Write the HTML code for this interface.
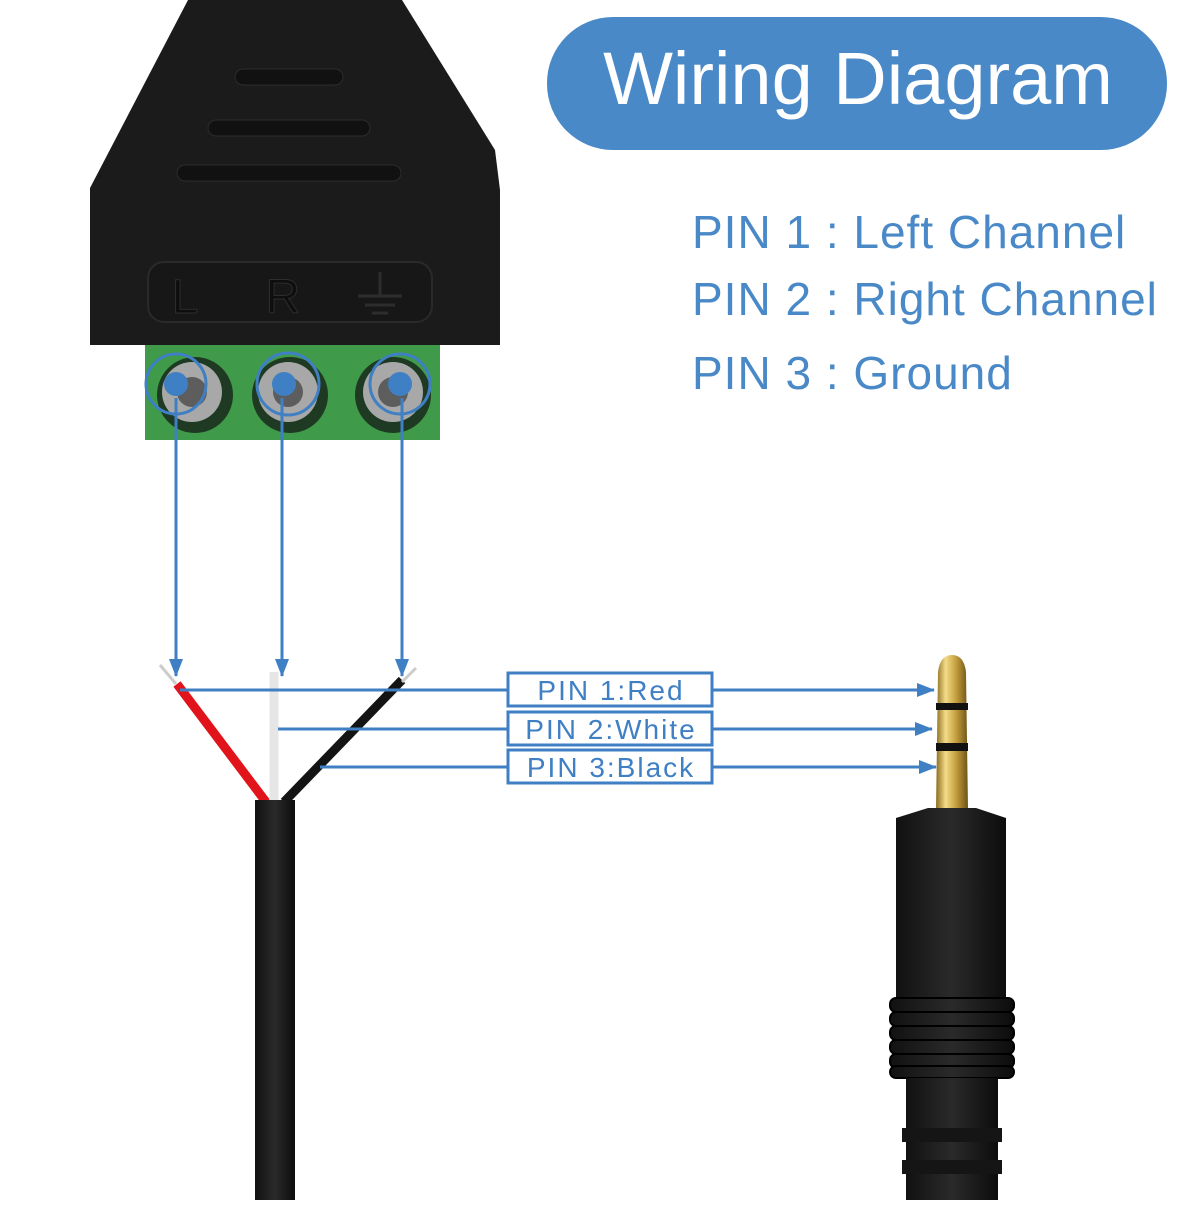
<!DOCTYPE html>
<html><head><meta charset="utf-8"><style>
body{margin:0;background:#fff;width:1200px;height:1200px;overflow:hidden;font-family:"Liberation Sans",sans-serif}
</style></head><body>
<svg width="1200" height="1200" viewBox="0 0 1200 1200" xmlns="http://www.w3.org/2000/svg">
<defs>
<linearGradient id="gold" x1="0" x2="1"><stop offset="0" stop-color="#8a6a1c"/><stop offset="0.3" stop-color="#f3dc8a"/><stop offset="0.6" stop-color="#c9a443"/><stop offset="1" stop-color="#6e5214"/></linearGradient>
<linearGradient id="blk" x1="0" x2="1"><stop offset="0" stop-color="#111"/><stop offset="0.5" stop-color="#2a2a2a"/><stop offset="1" stop-color="#0c0c0c"/></linearGradient>
<marker id="ar" markerWidth="18" markerHeight="14" refX="17" refY="7" orient="auto" markerUnits="userSpaceOnUse"><path d="M0,0 L18,7 L0,14 Z" fill="#3f7fc4"/></marker>
</defs>
<path d="M188,0 L402,0 L495,150 L500,190 L500,345 L90,345 L90,188 Z" fill="#1b1b1b"/>
<rect x="235" y="69" width="108" height="16" rx="8" fill="#111" stroke="#2c2c2c"/>
<rect x="208" y="120" width="162" height="16" rx="8" fill="#111" stroke="#2c2c2c"/>
<rect x="177" y="165" width="224" height="16" rx="8" fill="#111" stroke="#2c2c2c"/>
<rect x="148" y="262" width="284" height="60" rx="16" fill="#171717" stroke="#2a2a2a" stroke-width="2"/>
<text x="185" y="313" font-size="48" fill="#0e0e0e" stroke="#2d2d2d" text-anchor="middle">L</text>
<text x="283" y="313" font-size="48" fill="#0e0e0e" stroke="#2d2d2d" text-anchor="middle">R</text>
<g stroke="#2d2d2d" stroke-width="3"><line x1="380" y1="272" x2="380" y2="296"/><line x1="358" y1="296" x2="402" y2="296"/><line x1="365" y1="305" x2="395" y2="305"/><line x1="372" y1="313" x2="388" y2="313"/></g>
<rect x="145" y="345" width="295" height="95" fill="#3f9a4a"/>
<g fill="#1e3a22"><circle cx="195" cy="395" r="38"/><circle cx="290" cy="395" r="38"/><circle cx="393" cy="395" r="38"/></g>
<g fill="#a8a8a8"><circle cx="192" cy="392" r="30"/><circle cx="288" cy="392" r="30"/><circle cx="393" cy="392" r="30"/></g>
<g fill="#5d5d5d"><circle cx="192" cy="392" r="15"/><circle cx="288" cy="392" r="15"/><circle cx="393" cy="392" r="15"/></g>
<g fill="none" stroke="#3f7fc4" stroke-width="3"><circle cx="176" cy="384" r="30"/><circle cx="288" cy="384" r="31"/><circle cx="400" cy="384" r="30"/></g>
<g fill="#3f7fc4"><circle cx="176" cy="384" r="12"/><circle cx="284" cy="384" r="12"/><circle cx="400" cy="384" r="12"/></g>
<g stroke="#3f7fc4" stroke-width="3" marker-end="url(#ar)"><line x1="176" y1="398" x2="176" y2="676"/><line x1="282" y1="398" x2="282" y2="676"/><line x1="402" y1="398" x2="402" y2="676"/></g>
<line x1="177" y1="684" x2="266" y2="802" stroke="#e0141a" stroke-width="9"/>
<line x1="274" y1="672" x2="274" y2="802" stroke="#e6e6e6" stroke-width="9"/>
<line x1="402" y1="680" x2="284" y2="802" stroke="#141414" stroke-width="9"/>
<line x1="160" y1="665" x2="176" y2="684" stroke="#ccc" stroke-width="3"/>
<line x1="416" y1="668" x2="402" y2="682" stroke="#ccc" stroke-width="3"/>
<rect x="255" y="800" width="40" height="400" fill="url(#blk)"/>
<path d="M938,672 Q940,655 952,655 Q964,655 966,672 L968,810 L936,810 Z" fill="url(#gold)"/>
<rect x="936" y="703" width="32" height="7" fill="#111"/>
<rect x="936" y="743" width="32" height="8" fill="#111"/>
<path d="M928,808 L976,808 L1006,818 L1006,1000 L896,1000 L896,818 Z" fill="url(#blk)"/>
<g fill="url(#blk)" stroke="#000" stroke-width="2">
<rect x="890" y="998" width="124" height="14" rx="6"/><rect x="890" y="1012" width="124" height="14" rx="6"/><rect x="890" y="1026" width="124" height="14" rx="6"/><rect x="890" y="1040" width="124" height="14" rx="6"/><rect x="890" y="1054" width="124" height="14" rx="6"/><rect x="890" y="1066" width="124" height="12" rx="6"/></g>
<rect x="906" y="1078" width="92" height="122" fill="url(#blk)"/>
<rect x="902" y="1128" width="100" height="14" fill="#151515"/>
<rect x="902" y="1160" width="100" height="14" fill="#151515"/>
<g stroke="#3f7fc4" stroke-width="3">
<line x1="180" y1="690" x2="508" y2="690"/><line x1="712" y1="690" x2="934" y2="690" marker-end="url(#ar)"/>
<line x1="278" y1="729" x2="508" y2="729"/><line x1="712" y1="729" x2="932" y2="729" marker-end="url(#ar)"/>
<line x1="320" y1="767" x2="508" y2="767"/><line x1="712" y1="767" x2="936" y2="767" marker-end="url(#ar)"/>
</g>
<g fill="#fff" stroke="#3f7fc4" stroke-width="3">
<rect x="508" y="673" width="204" height="33"/><rect x="508" y="712" width="204" height="33"/><rect x="508" y="750" width="204" height="33"/></g>
<g font-size="28" fill="#3f7fc4" text-anchor="middle" letter-spacing="2">
<text x="611" y="700">PIN 1:Red</text><text x="611" y="739">PIN 2:White</text><text x="611" y="777">PIN 3:Black</text></g>
<rect x="547" y="17" width="620" height="133" rx="66" fill="#4a89c8"/>
<text x="858" y="104" font-size="74" fill="#fff" text-anchor="middle">Wiring Diagram</text>
<g font-size="46" fill="#4a89c8" letter-spacing="1">
<text x="692" y="248">PIN 1 : Left Channel</text>
<text x="692" y="315">PIN 2 : Right Channel</text>
<text x="692" y="389">PIN 3 : Ground</text></g>
</svg>
</body></html>
